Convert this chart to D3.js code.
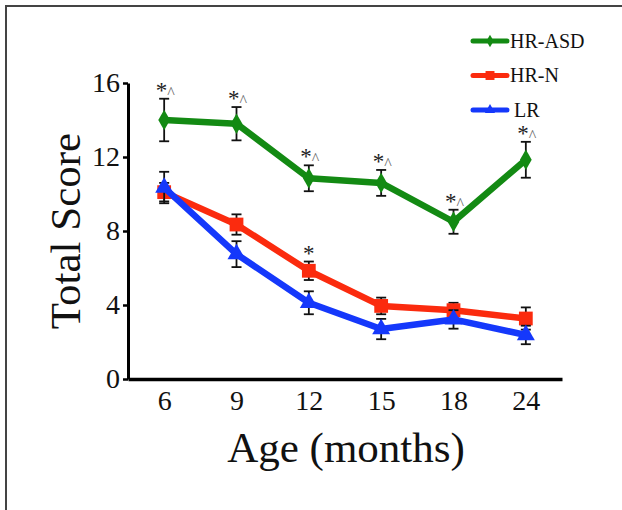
<!DOCTYPE html>
<html>
<head>
<meta charset="utf-8">
<script src="https://cdn.jsdelivr.net/npm/d3@7"></script>
<style>
  body { margin: 0; background: #fff; }
</style>
</head>
<body>
<div id="chart"></div>
<script>
// ages (months) on the x axis
const ages = ["6", "9", "12", "15", "18", "24"];
const yTicks = [0, 4, 8, 12, 16];

// mean total score and standard error per group
const seriesNames = ["HR-ASD", "HR-N", "LR"];
const asdMean = [14.0, 13.8, 10.85, 10.6, 8.5, 11.85];
const asdErr = [1.15, 0.9, 0.7, 0.7, 0.65, 0.97];
const hrnMean = [10.1, 8.35, 5.85, 3.95, 3.72, 3.27];
const hrnErr = [0.5, 0.55, 0.5, 0.45, 0.4, 0.6];
const lrMean = [10.35, 6.75, 4.12, 2.7, 3.22, 2.38];
const lrErr = [0.85, 0.7, 0.62, 0.55, 0.5, 0.5];

// significance marks above each point
const asdMarks = ["*^", "*^", "*^", "*^", "*^", "*^"];
const hrnMarks = ["", "", "*", "", "", ""];

const colors = { "HR-ASD": "#138a13", "HR-N": "#fb2b0e", "LR": "#1538fb" };
const symbols = { "HR-ASD": d3.symbolDiamond, "HR-N": d3.symbolSquare, "LR": d3.symbolTriangle };
const symSize = { "HR-ASD": 120, "HR-N": 190, "LR": 140 };

const serif = "'Liberation Serif', 'Times New Roman', serif";
const width = 622, height = 510;

const svg = d3.select("#chart").append("svg")
    .attr("width", width)
    .attr("height", height)
    .attr("font-family", serif);

svg.append("rect").attr("width", width).attr("height", height).attr("fill", "#fff");

// frame
svg.append("rect")
    .attr("x", 6).attr("y", 6)
    .attr("width", 800).attr("height", 800)
    .attr("fill", "none")
    .attr("stroke", "#444")
    .attr("stroke-width", 2);

const x = d3.scalePoint()
    .domain(ages)
    .range([128, 562])
    .padding(0.5);

const y = d3.scaleLinear()
    .domain([0, 16])
    .range([379, 83]);

// axes
const gY = svg.append("g")
    .attr("transform", "translate(128,0)")
    .call(d3.axisLeft(y).tickValues(yTicks).tickSize(5).tickSizeOuter(0).tickPadding(3));
gY.attr("font-family", serif).attr("font-size", 28);
gY.select(".domain").attr("stroke-width", 3);
gY.selectAll(".tick line").attr("stroke-width", 2.5);
gY.selectAll("text").attr("fill", "#111");

const gX = svg.append("g")
    .attr("transform", "translate(0,379)")
    .call(d3.axisBottom(x).tickSize(0).tickSizeOuter(0).tickPadding(11));
gX.attr("font-family", serif).attr("font-size", 28);
gX.select(".domain").attr("stroke-width", 3.5);
gX.selectAll("text").attr("fill", "#111");

svg.append("text")
    .attr("transform", "rotate(-90)")
    .attr("x", -(y(0) + y(16)) / 2)
    .attr("y", 80)
    .attr("text-anchor", "middle")
    .attr("font-size", 43)
    .attr("fill", "#111")
    .text("Total Score");

svg.append("text")
    .attr("x", 346)
    .attr("y", 462)
    .attr("text-anchor", "middle")
    .attr("font-size", 43)
    .attr("fill", "#111")
    .text("Age (months)");

const series = [
    { name: "HR-ASD", mean: asdMean, err: asdErr },
    { name: "HR-N", mean: hrnMean, err: hrnErr },
    { name: "LR", mean: lrMean, err: lrErr }
];

const line = d3.line()
    .x(d => x(d.age))
    .y(d => y(d.v));

series.forEach(s => {
    const pts = ages.map((a, i) => ({ age: a, v: s.mean[i], e: s.err[i] }));
    const g = svg.append("g");

    // error bars
    const eb = g.selectAll(".eb").data(pts).enter().append("g")
        .attr("stroke", "#111").attr("stroke-width", 1.8);
    eb.append("line")
        .attr("x1", d => x(d.age)).attr("x2", d => x(d.age))
        .attr("y1", d => y(d.v + d.e)).attr("y2", d => y(d.v - d.e));
    eb.append("line")
        .attr("x1", d => x(d.age) - 5).attr("x2", d => x(d.age) + 5)
        .attr("y1", d => y(d.v + d.e)).attr("y2", d => y(d.v + d.e));
    eb.append("line")
        .attr("x1", d => x(d.age) - 5).attr("x2", d => x(d.age) + 5)
        .attr("y1", d => y(d.v - d.e)).attr("y2", d => y(d.v - d.e));

    g.append("path")
        .datum(pts)
        .attr("d", line)
        .attr("fill", "none")
        .attr("stroke", colors[s.name])
        .attr("stroke-width", 6.5)
        .attr("stroke-linejoin", "round");

    g.selectAll(".mk").data(pts).enter().append("path")
        .attr("transform", d => `translate(${x(d.age)},${y(d.v)})`)
        .attr("d", d3.symbol().type(symbols[s.name]).size(symSize[s.name]))
        .attr("fill", colors[s.name]);
});

// significance marks
function drawMarks(marks, mean, err) {
    marks.forEach((m, i) => {
        if (!m) return;
        const t = svg.append("text")
            .attr("x", x(ages[i]) + (m.length > 1 ? 1 : 0))
            .attr("y", y(mean[i] + err[i]) - 1)
            .attr("text-anchor", "middle");
        t.append("tspan").attr("font-size", 23).attr("fill", "#222").text("*");
        if (m.length > 1) {
            t.append("tspan").attr("font-size", 16).attr("fill", "#666").text("^");
        }
    });
}
drawMarks(asdMarks, asdMean, asdErr);
drawMarks(hrnMarks, hrnMean, hrnErr);

// legend
const legend = svg.append("g");
seriesNames.forEach((n, i) => {
    const ly = 41 + i * 34.5;
    legend.append("line")
        .attr("x1", 473).attr("x2", 507)
        .attr("y1", ly).attr("y2", ly)
        .attr("stroke", colors[n]).attr("stroke-width", 5)
        .attr("stroke-linecap", "round");
    legend.append("path")
        .attr("transform", `translate(490,${ly})`)
        .attr("d", d3.symbol().type(symbols[n]).size(n === "HR-N" ? 80 : 45))
        .attr("fill", colors[n]);
    legend.append("text")
        .attr("x", n === "LR" ? 514 : 510)
        .attr("y", ly + 6.5)
        .attr("font-size", 20)
        .attr("fill", "#111")
        .text(n);
});
</script>
</body>
</html>
